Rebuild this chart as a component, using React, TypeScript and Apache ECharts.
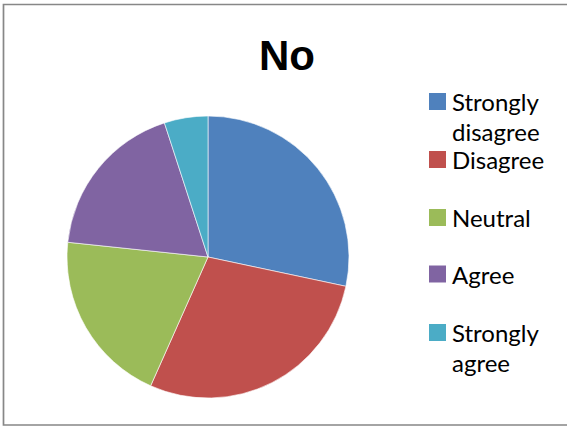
import React, { useEffect, useRef } from "react";
import * as echarts from "echarts";

const categories = ["Strongly disagree", "Disagree", "Neutral", "Agree", "Strongly agree"];
const legendLabels = ["Strongly\ndisagree", "Disagree", "Neutral", "Agree", "Strongly\nagree"];
const values = [17, 17, 12, 11, 3];
const colors = ["#4F81BD", "#C0504D", "#9BBB59", "#8064A2", "#4BACC6"];
const legendCenters = [101.5, 159.5, 217.5, 274, 332.5];

const LINE_H = 30;
const ICON = 19;

export default function App() {
  const ref = useRef<HTMLDivElement>(null);

  useEffect(() => {
    document.body.style.margin = "0";
    const chart = echarts.init(ref.current!, null, { renderer: "svg" });

    // One legend per entry; wrapped labels get a leading blank line so the
    // first line of text sits level with the swatch.
    const legends = categories.map((name, i) => {
      const label = legendLabels[i];
      const twoLine = label.includes("\n");
      const h = twoLine ? LINE_H * 3 : LINE_H;
      return {
        data: [name],
        orient: "vertical",
        left: 427,
        top: legendCenters[i] - h / 2,
        padding: 0,
        itemWidth: ICON,
        itemHeight: ICON,
        icon: "rect",
        selectedMode: false,
        formatter: () => (twoLine ? "\u00a0\n" + label : label),
        textStyle: {
          fontFamily: "Lato",
          fontSize: 24,
          color: "#000",
          lineHeight: LINE_H,
        },
      };
    });

    chart.setOption({
      animation: false,
      backgroundColor: "#fff",
      color: colors,
      title: {
        text: "No",
        left: 287,
        textAlign: "center",
        top: 34.5,
        padding: 0,
        textStyle: {
          fontFamily: "Liberation Sans",
          fontWeight: "bold",
          fontSize: 42,
          lineHeight: 42,
          color: "#000",
        },
      },
      legend: legends,
      graphic: [
        {
          type: "rect",
          shape: { x: 3.5, y: 4.5, width: 600, height: 420.5 },
          style: { fill: "none", stroke: "#878787", lineWidth: 1.7 },
          silent: true,
        },
      ],
      series: [
        {
          type: "pie",
          center: [208, 257],
          radius: 141,
          startAngle: 90,
          clockwise: true,
          label: { show: false },
          labelLine: { show: false },
          emphasis: { disabled: true },
          itemStyle: { borderColor: "#ffffff", borderWidth: 0.6 },
          data: categories.map((name, i) => ({ name, value: values[i] })),
        },
      ],
    });

    return () => chart.dispose();
  }, []);

  return <div ref={ref} style={{ width: 567, height: 427 }} />;
}
